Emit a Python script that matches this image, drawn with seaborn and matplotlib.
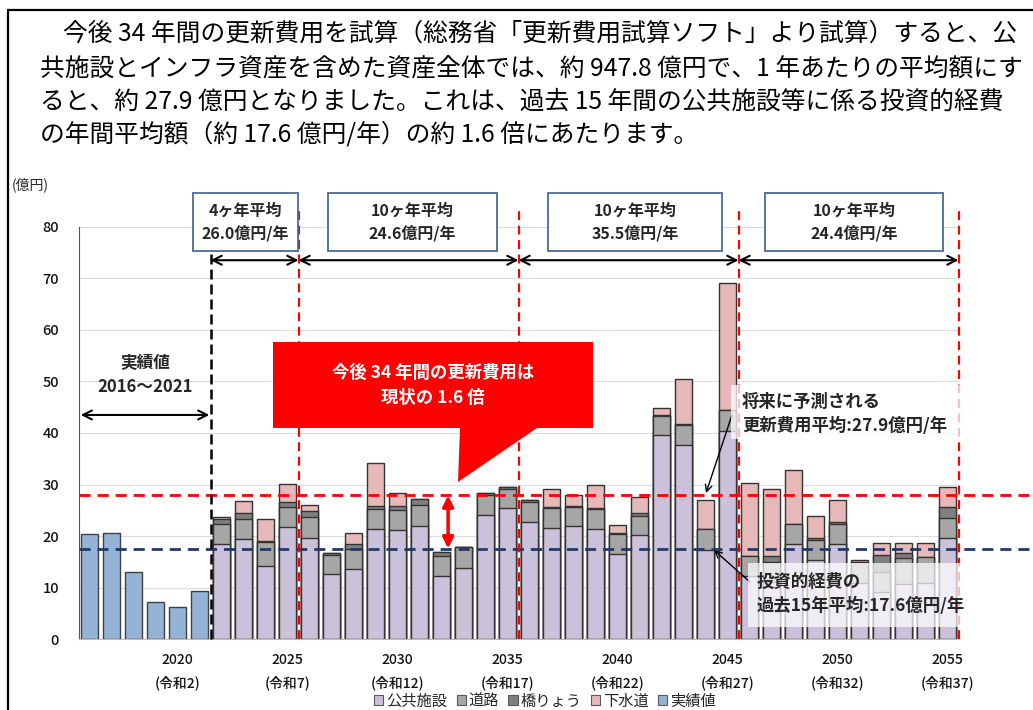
import numpy as np
import pandas as pd
import matplotlib
matplotlib.use("Agg")
import matplotlib.pyplot as plt
import seaborn as sns
from matplotlib.patches import Polygon, Rectangle, Patch
from matplotlib.lines import Line2D
from matplotlib.transforms import Affine2D

# ---------------- data ----------------
actual_years = [2016, 2017, 2018, 2019, 2020, 2021]
actual_values = [20.4, 20.7, 13.0, 7.2, 6.3, 9.3]

forecast_years = list(range(2022, 2056))
public = [18.5, 19.4, 14.2, 21.7, 19.7, 12.6, 13.6, 21.3, 21.2, 22.0,
          12.3, 13.8, 24.1, 25.4, 22.8, 21.6, 22.0, 21.4, 16.5, 20.2,
          39.6, 37.7, 17.3, 40.4, 12.2, 11.1, 18.4, 15.4, 18.4, 11.0,
          9.2, 10.7, 10.9, 19.6]
road = [3.9, 3.9, 4.6, 3.9, 4.0, 3.7, 4.0, 3.9, 3.9, 4.0,
        3.9, 4.0, 3.9, 3.8, 3.9, 3.9, 3.7, 3.8, 3.9, 3.8,
        3.6, 3.8, 4.1, 4.1, 3.9, 3.9, 3.9, 3.9, 3.9, 3.9,
        3.9, 5.0, 5.1, 3.9]
bridge = [0.9, 1.1, 0.3, 1.1, 1.2, 0.4, 0.8, 0.7, 0.8, 1.3,
          0.8, 0.1, 0.3, 0.4, 0.3, 0.1, 0.2, 0.2, 0.2, 0.4,
          0.2, 0.2, 0.0, 0.0, 0.1, 1.2, 0.0, 0.4, 0.4, 0.0,
          3.2, 1.0, 0.0, 2.2]
sewer = [0.5, 2.5, 4.2, 3.4, 1.1, 0.0, 2.2, 8.2, 2.5, 0.0,
         0.0, 0.0, 0.0, 0.0, 0.0, 3.5, 2.0, 4.5, 1.6, 3.1,
         1.5, 8.8, 5.7, 24.6, 14.2, 12.9, 10.5, 4.3, 4.4, 0.5,
         2.4, 2.0, 2.7, 3.9]

tick_years = [2020, 2025, 2030, 2035, 2040, 2045, 2050, 2055]
tick_reiwa = ["(令和2)", "(令和7)", "(令和12)", "(令和17)", "(令和22)",
              "(令和27)", "(令和32)", "(令和37)"]

avg_future = 27.9   # 将来の更新費用平均
avg_past = 17.6     # 投資的経費 過去15年平均
period_bounds = [2021.5, 2025.5, 2035.5, 2045.5, 2055.5]
period_labels = ["4ヶ年平均\n26.0億円/年", "10ヶ年平均\n24.6億円/年",
                 "10ヶ年平均\n35.5億円/年", "10ヶ年平均\n24.4億円/年"]

legend_names = ["公共施設", "道路", "橋りょう", "下水道", "実績値"]
colors = ["#CCC1DA", "#A6A6A6", "#7F7F7F", "#E6B9B8", "#95B3D7"]

# ---------------- frames ----------------
all_years = actual_years + forecast_years
labels = [str(y) for y in all_years]
fc = pd.DataFrame({"year": [str(y) for y in forecast_years],
                   "public": public, "road": road,
                   "bridge": bridge, "sewer": sewer})
fc["c1"] = fc["public"]
fc["c2"] = fc["c1"] + fc["road"]
fc["c3"] = fc["c2"] + fc["bridge"]
fc["c4"] = fc["c3"] + fc["sewer"]
act = pd.DataFrame({"year": [str(y) for y in actual_years], "v": actual_values})

def pos(year):
    return labels.index(str(int(year))) if float(year).is_integer() else \
        labels.index(str(int(year - 0.5))) + 0.5

# ---------------- figure ----------------
sns.set_style("white")
plt.rcParams["font.family"] = ["Noto Sans CJK JP", "DejaVu Sans"]

W, H = 1033, 710
fig = plt.figure(figsize=(W / 100, H / 100), dpi=100)
pix = Affine2D().scale(1 / W, -1 / H).translate(0, 1) + fig.transFigure
ax = fig.add_axes([78.5 / W, 1 - 639.3 / H, 880 / W, 412.6 / H])

edge = "#333333"
for col, c in zip(["c4", "c3", "c2", "c1"], colors[3::-1]):
    sns.barplot(data=fc, x="year", y=col, order=labels, color=c, saturation=1,
                edgecolor=edge, linewidth=1.0, width=0.8, errorbar=None, ax=ax)
sns.barplot(data=act, x="year", y="v", order=labels, color=colors[4], saturation=1,
            edgecolor="#404040", linewidth=1.0, width=0.8, errorbar=None, ax=ax)

ax.set_xlim(-0.5, len(labels) - 0.5)
ax.set_ylim(0, 80)
ax.set_yticks(range(0, 81, 10))
ax.set_xlabel("")
ax.set_ylabel("")
ax.set_xticks([pos(y) for y in tick_years])
ax.set_xticklabels([f"{y}\n{r}" for y, r in zip(tick_years, tick_reiwa)],
                   fontsize=10, linespacing=1.7, color="#111111", fontweight="medium")
ax.set_xticks([i + 0.5 for i in range(-1, len(labels))], minor=True)
ax.tick_params(axis="x", which="major", length=0, pad=10)
ax.tick_params(axis="x", which="minor", length=3, direction="in", color="#999999", width=0.8)
ax.tick_params(axis="y", length=4, direction="out", color="#555555", pad=10,
               labelsize=10.5, labelcolor="#111111")
for t in ax.get_yticklabels():
    t.set_fontweight("medium")
ax.yaxis.grid(True, color="#dcdcdc", lw=0.8)
ax.set_axisbelow(True)
for s in ["top", "right"]:
    ax.spines[s].set_visible(False)
ax.spines["left"].set_color("#555555")
ax.spines["bottom"].set_color("#bbbbbb")

# mean lines
xr = len(labels) + 2.75
ax.plot([-0.5, xr], [avg_future] * 2, color="red", ls=(0, (4, 2.5)), lw=2, clip_on=False, zorder=5)
ax.plot([-0.5, xr], [avg_past] * 2, color="#1F3A6E", ls=(0, (4, 2.5)), lw=2, clip_on=False, zorder=5)

# vertical separators
ax.plot([pos(period_bounds[0])] * 2, [0, 75], color="black", ls=(0, (4, 2)), lw=1.8,
        clip_on=False, zorder=6)
for b in period_bounds[1:]:
    ax.plot([pos(b)] * 2, [0, 83], color="red", ls=(0, (4, 2.5)), lw=1.6,
            clip_on=False, zorder=6)

# period arrows
for a, b in zip(period_bounds[:-1], period_bounds[1:]):
    ax.annotate("", xy=(pos(b), 73.5), xytext=(pos(a), 73.5),
                arrowprops=dict(arrowstyle="<->", color="black", lw=1.5,
                                mutation_scale=16, shrinkA=0, shrinkB=0),
                annotation_clip=False, zorder=7)
ax.annotate("", xy=(pos(period_bounds[0]) - 0.05, 43.5), xytext=(-0.4, 43.5),
            arrowprops=dict(arrowstyle="<->", color="black", lw=1.5,
                            mutation_scale=16, shrinkA=0, shrinkB=0), zorder=7)

# period boxes
box_px = [(193, 298), (328, 497), (548, 722), (765, 943)]
for (x0, x1), t in zip(box_px, period_labels):
    fig.patches.append(Rectangle((x0, 193), x1 - x0, 58, transform=pix,
                                 facecolor="white", edgecolor="#4A6A94", lw=1.3))
    fig.text((x0 + x1) / 2 / W, 1 - 222 / H, t, ha="center", va="center",
             fontsize=11.5, fontweight="bold", linespacing=1.45)

# 実績値 label
fig.text(145 / W, 1 - 375 / H, "実績値\n2016～2021", ha="center", va="center",
         fontsize=12, fontweight="bold", linespacing=1.5)

# red callout
callout = [(273, 342), (593, 342), (593, 428), (537, 428), (458, 482),
           (460, 428), (273, 428)]
fig.patches.append(Polygon(callout, closed=True, transform=pix,
                           facecolor="#FF0000", edgecolor="none", zorder=8))
fig.text(433 / W, 1 - 385 / H, "今後 34 年間の更新費用は\n現状の 1.6 倍", ha="center",
         va="center", color="white", fontsize=12.5, fontweight="bold", linespacing=1.5,
         zorder=9)

# red double arrow
ax.annotate("", xy=(16.3, avg_past), xytext=(16.3, avg_future),
            arrowprops=dict(arrowstyle="<|-|>", color="red", lw=2.5,
                            mutation_scale=16, shrinkA=0, shrinkB=0), zorder=9)

# annotation boxes
fig.patches.append(Rectangle((731, 385), 234, 54, transform=pix, facecolor="white",
                             edgecolor="none", alpha=0.75, zorder=8))
fig.text(742 / W, 1 - 414 / H, "将来に予測される\n更新費用平均:27.9億円/年", ha="left",
         va="center", fontsize=12.5, fontweight="bold", linespacing=1.45, zorder=9)
fig.patches.append(Rectangle((748, 563), 214, 64, transform=pix, facecolor="white",
                             edgecolor="none", alpha=0.72, zorder=8))
fig.text(757 / W, 1 - 594 / H, "投資的経費の\n過去15年平均:17.6億円/年", ha="left",
         va="center", fontsize=12.5, fontweight="bold", linespacing=1.45, zorder=9)

ax.annotate("", xy=(706, 493), xytext=(732, 415), xycoords=pix, textcoords=pix,
            arrowprops=dict(arrowstyle="->", color="black", lw=1.0, mutation_scale=12,
                            shrinkA=0, shrinkB=0), annotation_clip=False, zorder=10)
ax.annotate("", xy=(714, 550), xytext=(750, 582), xycoords=pix, textcoords=pix,
            arrowprops=dict(arrowstyle="->", color="black", lw=1.0, mutation_scale=12,
                            shrinkA=0, shrinkB=0), annotation_clip=False, zorder=10)

# unit
fig.text(12 / W, 1 - 185 / H, "(億円)", ha="left", va="center", fontsize=10)

# legend
handles = [Patch(facecolor=c, edgecolor="#595959", lw=0.8) for c in colors]
fig.legend(handles, legend_names, loc="center", bbox_to_anchor=(545 / W, 1 - 701 / H),
           ncol=5, frameon=False, fontsize=11, handlelength=0.6, handleheight=0.6,
           handletextpad=0.2, columnspacing=0.6, borderaxespad=0, borderpad=0)

# header text
header = ["今後 34 年間の更新費用を試算（総務省「更新費用試算ソフト」より試算）すると、公",
          "共施設とインフラ資産を含めた資産全体では、約 947.8 億円で、1 年あたりの平均額にす",
          "ると、約 27.9 億円となりました。これは、過去 15 年間の公共施設等に係る投資的経費",
          "の年間平均額（約 17.6 億円/年）の約 1.6 倍にあたります。"]
hx = [63, 40, 40, 40]
hy = [34, 69, 102, 134]
for t, x, y in zip(header, hx, hy):
    fig.text(x / W, 1 - y / H, t, ha="left", va="center", fontsize=17.8, color="black")

# frame
fig.lines.append(Line2D([8, W], [10, 10], transform=pix, color="black", lw=1.6))
fig.lines.append(Line2D([8, 8], [10, H], transform=pix, color="black", lw=1.6))

fig.savefig("out.png", dpi=100)
